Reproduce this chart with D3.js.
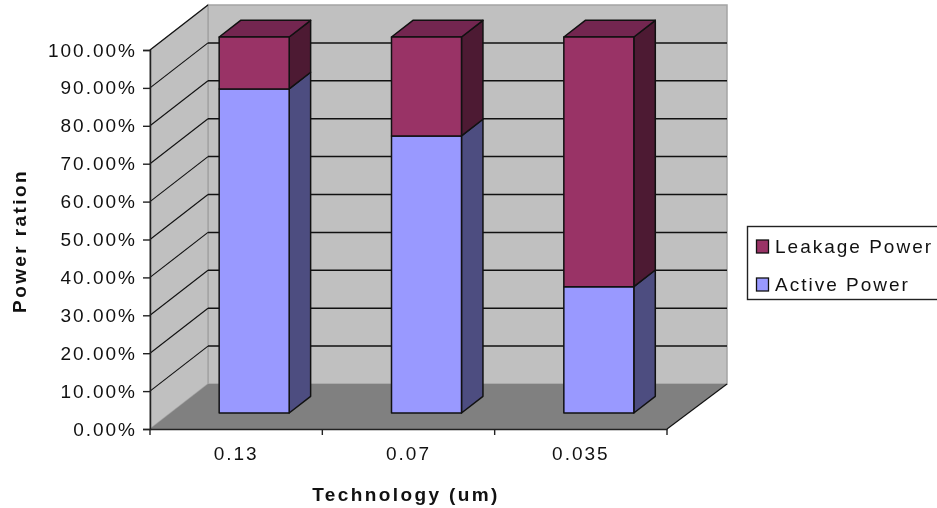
<!DOCTYPE html>
<html>
<head>
<meta charset="utf-8">
<script src="https://cdn.jsdelivr.net/npm/d3@7"></script>
<style>
  html, body { margin: 0; padding: 0; background: #fff; overflow: hidden; }
  svg { display: block; filter: blur(0.4px); }
  text { font-family: "Liberation Sans", Arial, sans-serif; fill: #111; }
</style>
</head>
<body>
<div id="chart"></div>
<script>
// values
var categories = ["0.13", "0.07", "0.035"];
var activePower = [86.2, 73.7, 33.6];
var leakagePower = [13.8, 26.3, 66.4];
var yTicks = [0, 10, 20, 30, 40, 50, 60, 70, 80, 90, 100];

var colors = {
  wall: "#c0c0c0", wallEdge: "#a4a4a4", floor: "#808080",
  active: "#9999ff", activeSide: "#4d4d80",
  leak: "#993366", leakSide: "#4d1a33", leakTop: "#732650"
};

var width = 937, height = 508;

var svg = d3.select("#chart").append("svg")
  .attr("width", width)
  .attr("height", height);

// front plane of the plot
var x = d3.scaleBand().domain(categories).range([150, 667]);
var y = d3.scaleLinear().domain([0, 100]).range([429, 50]);
// bars stand a bit further in, so they get their own value scale
var yBar = d3.scaleLinear().domain([0, 100]).range([413, 37]);

// depth goes up and to the right
var dx = d3.scaleLinear().domain([0, 1]).range([0, 58]);
var dy = d3.scaleLinear().domain([0, 1]).range([0, -45]);

function pt(px, v, d) { return [px + dx(d), y(v) + dy(d)]; }
function poly(points) { return d3.line()(points) + "Z"; }

var xMin = x.range()[0], xMax = x.range()[1];

// walls and floor
var back = svg.append("g");
back.append("path")
  .attr("d", poly([pt(xMin, 0, 1), pt(xMax + 2, 0, 1), pt(xMax + 2, 100, 1), pt(xMin, 100, 1)]))
  .attr("fill", colors.wall).attr("stroke", colors.wallEdge).attr("stroke-width", 1.5);
back.append("path")
  .attr("d", poly([pt(xMin, 0, 0), pt(xMin, 0, 1), pt(xMin, 100, 1), pt(xMin, 100, 0)]))
  .attr("fill", colors.wall).attr("stroke", colors.wallEdge).attr("stroke-width", 1.5);
back.append("path")
  .attr("d", poly([pt(xMin, 0, 0), pt(xMin, 0, 1), pt(xMax + 2, 0, 1), pt(xMax, 0, 0)]))
  .attr("fill", colors.floor);

// gridlines on the side wall and the back wall
yTicks.slice(1).forEach(function(t) {
  back.append("path")
    .attr("d", d3.line()([pt(xMin, t, 0), pt(xMin, t, 1)]))
    .attr("fill", "none").attr("stroke", "#111").attr("stroke-width", 1.1);
  back.append("path")
    .attr("d", d3.line()([pt(xMin, t, 1), pt(xMax + 2, t, 1)]))
    .attr("fill", "none").attr("stroke", "#111").attr("stroke-width", t == 100 ? 0 : 1.5);
});
back.append("path")
  .attr("d", d3.line()([pt(xMax, 0, 0), pt(xMax + 2, 0, 1)]))
  .attr("fill", "none").attr("stroke", "#111").attr("stroke-width", 1.2);

// bars
var barW = 70, barShift = 18, barDepth = 0.37;

function barPt(px, v, d) { return [px + dx(d), yBar(v) + dy(d)]; }

function drawBlock(g, left, v0, v1, front, side, top) {
  var right = left + barW;
  g.append("path")
    .attr("d", poly([barPt(right, v0, 0), barPt(right, v0, barDepth), barPt(right, v1, barDepth), barPt(right, v1, 0)]))
    .attr("fill", side);
  if (top) {
    g.append("path")
      .attr("d", poly([barPt(left, v1, 0), barPt(left, v1, barDepth), barPt(right, v1, barDepth), barPt(right, v1, 0)]))
      .attr("fill", top);
  }
  g.append("path")
    .attr("d", poly([barPt(left, v0, 0), barPt(right, v0, 0), barPt(right, v1, 0), barPt(left, v1, 0)]))
    .attr("fill", front);
  g.selectAll("path")
    .attr("stroke", "#111").attr("stroke-width", 1.5).attr("stroke-linejoin", "round");
}

categories.forEach(function(c, i) {
  var left = x(c) + x.bandwidth() / 2 - barW / 2 + barShift;
  var g = svg.append("g");
  drawBlock(g.append("g"), left, 0, activePower[i], colors.active, colors.activeSide, null);
  drawBlock(g.append("g"), left, activePower[i], activePower[i] + leakagePower[i], colors.leak, colors.leakSide, colors.leakTop);
});

// axes
var yAxis = d3.axisLeft(y)
  .tickValues(yTicks)
  .tickSize(7)
  .tickPadding(6)
  .tickFormat(function(d) { return d.toFixed(2) + "%"; });

var yG = svg.append("g").attr("transform", "translate(" + xMin + ",0)").call(yAxis);
yG.select(".domain").attr("stroke", "#222").attr("stroke-width", 1.5);
yG.selectAll(".tick line").attr("stroke", "#222").attr("stroke-width", 1.4);
yG.selectAll("text")
  .style("font-size", "19px").style("letter-spacing", "2px").attr("fill", "#111");

var xAxis = d3.axisBottom(x).tickSize(0).tickPadding(18);
var xG = svg.append("g").attr("transform", "translate(0," + y(0) + ")").call(xAxis);
xG.select(".domain").attr("stroke", "#222").attr("stroke-width", 1.5);
xG.selectAll("text")
  .style("font-size", "19px").style("letter-spacing", "2px").attr("fill", "#111");

// category separators on the x axis
var edges = categories.map(function(c) { return x(c); }).concat([xMax]);
svg.append("g").selectAll("line").data(edges).enter().append("line")
  .attr("x1", function(d) { return d; })
  .attr("x2", function(d) { return d; })
  .attr("y1", y(0))
  .attr("y2", y(0) + 6)
  .attr("stroke", "#222").attr("stroke-width", 1.4);

// axis titles
svg.append("text")
  .attr("text-anchor", "middle")
  .attr("transform", "translate(26,241)rotate(-90)")
  .style("font-size", "19px").style("font-weight", "bold").style("letter-spacing", "2.4px")
  .text("Power ration");

svg.append("text")
  .attr("text-anchor", "middle")
  .attr("x", 406).attr("y", 501)
  .style("font-size", "19px").style("font-weight", "bold").style("letter-spacing", "2.4px")
  .text("Technology (um)");

// legend
var legendNames = ["Leakage Power", "Active Power"];
var legendColors = [colors.leak, colors.active];

var legend = svg.append("g");
legend.append("rect")
  .attr("x", 747.5).attr("y", 226.5).attr("width", 200).attr("height", 73)
  .attr("fill", "#fff").attr("stroke", "#222").attr("stroke-width", 1.4);

var rows = legend.selectAll("g").data(legendNames).enter().append("g")
  .attr("transform", function(d, i) { return "translate(0," + (240 + i * 38) + ")"; });
rows.append("rect")
  .attr("x", 756.5).attr("y", 0).attr("width", 12).attr("height", 13)
  .attr("fill", function(d, i) { return legendColors[i]; })
  .attr("stroke", "#111").attr("stroke-width", 1.3);
rows.append("text")
  .attr("x", 775).attr("y", 13)
  .style("font-size", "19px").style("letter-spacing", "2px")
  .text(function(d) { return d; });
</script>
</body>
</html>
